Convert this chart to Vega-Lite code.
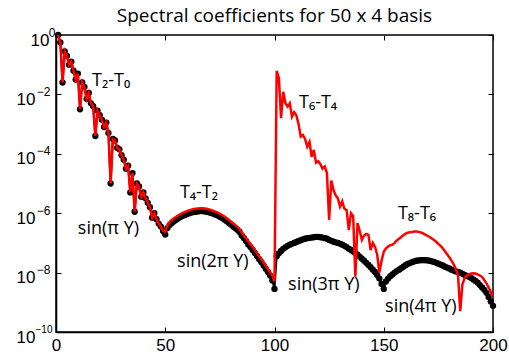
{
  "$schema": "https://vega.github.io/schema/vega-lite/v6.json",
  "width": 437,
  "height": 297,
  "autosize": {"type": "none"},
  "padding": {"left": 56, "top": 35, "right": 16, "bottom": 26},
  "background": "white",
  "title": {"text": "Spectral coefficients for 50 x 4 basis", "font": "Open Sans", "fontSize": 19, "fontWeight": "normal", "color": "black", "anchor": "middle", "baseline": "alphabetic", "offset": -15},
  "config": {
    "view": {"stroke": "black", "strokeWidth": 1.5},
    "axis": {"grid": false, "domainColor": "black", "domainWidth": 1.5, "tickColor": "black", "tickWidth": 1, "tickSize": -5, "labelColor": "black", "labelFont": "Liberation Sans", "labelFontSize": 17, "title": null, "labelOverlap": false, "labelBound": false, "labelFlush": false}
  },
  "datasets": {
    "d": [
      {"x":1,"k":1,"r":1},{"x":2,"k":0.5623,"r":0.5623},{"x":3,"k":2.512e-2,"r":2.512e-2},{"x":4,"k":0.2818,"r":0.2818},{"x":5,"k":0.1995,"r":0.1995},
      {"x":6,"k":0.1,"r":0.1},{"x":7,"k":0.1259,"r":0.1259},{"x":8,"k":6.31e-2,"r":6.31e-2},{"x":9,"k":3.162e-2,"r":3.162e-2},{"x":10,"k":5.012e-2,"r":5.012e-2},
      {"x":11,"k":3.162e-3,"r":3.162e-3},{"x":12,"k":2.512e-2,"r":2.512e-2},{"x":13,"k":1.778e-2,"r":1.778e-2},{"x":14,"k":7.079e-3,"r":7.079e-3},{"x":15,"k":1.122e-2,"r":1.122e-2},
      {"x":16,"k":5.012e-3,"r":5.012e-3},{"x":17,"k":3.981e-3,"r":3.981e-3},{"x":18,"k":3.981e-4,"r":3.981e-4},{"x":19,"k":2.818e-3,"r":2.818e-3},{"x":20,"k":1.995e-3,"r":1.995e-3},
      {"x":21,"k":1.413e-3,"r":1.413e-3},{"x":22,"k":7.943e-4,"r":7.943e-4},{"x":23,"k":1.122e-3,"r":1.122e-3},{"x":24,"k":5.012e-4,"r":5.012e-4},{"x":25,"k":1e-5,"r":1e-5},
      {"x":26,"k":3.162e-4,"r":3.162e-4},{"x":27,"k":2.818e-4,"r":2.818e-4},{"x":28,"k":1.585e-4,"r":1.585e-4},{"x":29,"k":1.413e-4,"r":1.413e-4},{"x":30,"k":8.913e-5,"r":8.913e-5},
      {"x":31,"k":6.31e-5,"r":6.31e-5},{"x":32,"k":3.162e-5,"r":3.162e-5},{"x":33,"k":3.981e-5,"r":3.981e-5},{"x":34,"k":5.012e-6,"r":5.012e-6},{"x":35,"k":2.239e-5,"r":2.239e-5},
      {"x":36,"k":1.122e-6,"r":1.122e-6},{"x":37,"k":1e-5,"r":1e-5},{"x":38,"k":7.943e-6,"r":7.943e-6},{"x":39,"k":3.548e-6,"r":3.548e-6},{"x":40,"k":5.012e-6,"r":5.012e-6},
      {"x":41,"k":3.162e-6,"r":3.162e-6},{"x":42,"k":2.239e-6,"r":2.239e-6},{"x":43,"k":1.585e-6,"r":1.585e-6},{"x":44,"k":7.079e-7,"r":7.079e-7},{"x":45,"k":1e-6,"r":1e-6},
      {"x":46,"k":6.31e-7,"r":6.31e-7},{"x":47,"k":4.467e-7,"r":4.467e-7},{"x":48,"k":3.548e-7,"r":3.548e-7},{"x":49,"k":2.512e-7,"r":2.512e-7},{"x":50,"k":1.905e-7,"r":2.399e-7},
      {"x":51,"k":3.162e-7,"r":3.981e-7},{"x":52,"k":3.981e-7,"r":5.012e-7},{"x":53,"k":4.677e-7,"r":5.888e-7},{"x":54,"k":5.37e-7,"r":6.761e-7},{"x":55,"k":6.026e-7,"r":7.586e-7},
      {"x":56,"k":6.761e-7,"r":8.511e-7},{"x":57,"k":7.413e-7,"r":9.333e-7},{"x":58,"k":8.128e-7,"r":1.023e-6},{"x":59,"k":8.71e-7,"r":1.096e-6},{"x":60,"k":9.333e-7,"r":1.175e-6},
      {"x":61,"k":1e-6,"r":1.259e-6},{"x":62,"k":1.047e-6,"r":1.318e-6},{"x":63,"k":1.096e-6,"r":1.38e-6},{"x":64,"k":1.122e-6,"r":1.413e-6},{"x":65,"k":1.148e-6,"r":1.445e-6},
      {"x":66,"k":1.175e-6,"r":1.479e-6},{"x":67,"k":1.175e-6,"r":1.479e-6},{"x":68,"k":1.148e-6,"r":1.445e-6},{"x":69,"k":1.122e-6,"r":1.413e-6},{"x":70,"k":1.072e-6,"r":1.349e-6},
      {"x":71,"k":1.023e-6,"r":1.288e-6},{"x":72,"k":9.55e-7,"r":1.202e-6},{"x":73,"k":8.913e-7,"r":1.122e-6},{"x":74,"k":8.318e-7,"r":1.047e-6},{"x":75,"k":7.586e-7,"r":9.55e-7},
      {"x":76,"k":6.918e-7,"r":8.71e-7},{"x":77,"k":6.166e-7,"r":7.762e-7},{"x":78,"k":5.495e-7,"r":6.918e-7},{"x":79,"k":4.786e-7,"r":6.026e-7},{"x":80,"k":4.169e-7,"r":5.248e-7},
      {"x":81,"k":3.631e-7,"r":4.571e-7},{"x":82,"k":3.162e-7,"r":3.981e-7},{"x":83,"k":2.754e-7,"r":3.467e-7},{"x":84,"k":2.344e-7,"r":2.951e-7},{"x":85,"k":1.778e-7,"r":2.239e-7},
      {"x":86,"k":1.445e-7,"r":1.82e-7},{"x":87,"k":1.148e-7,"r":1.445e-7},{"x":88,"k":8.913e-8,"r":1.122e-7},{"x":89,"k":7.244e-8,"r":9.12e-8},{"x":90,"k":5.754e-8,"r":7.244e-8},
      {"x":91,"k":4.571e-8,"r":5.754e-8},{"x":92,"k":3.631e-8,"r":4.571e-8},{"x":93,"k":2.818e-8,"r":3.548e-8},{"x":94,"k":2.239e-8,"r":2.818e-8},{"x":95,"k":1.738e-8,"r":2.188e-8},
      {"x":96,"k":1.349e-8,"r":1.698e-8},{"x":97,"k":1.047e-8,"r":1.318e-8},{"x":98,"k":7.943e-9,"r":1.047e-8},{"x":99,"k":5.37e-9,"r":7.943e-9},{"x":100,"k":2.818e-9,"r":5.012e-9},
      {"x":101,"k":3.548e-8,"r":6.166e-2},{"x":102,"k":4.467e-8,"r":3.548e-2},{"x":103,"k":5.37e-8,"r":1.585e-3},{"x":104,"k":6.31e-8,"r":1.23e-2},{"x":105,"k":7.079e-8,"r":5.012e-3},
      {"x":106,"k":7.943e-8,"r":3.89e-3},{"x":107,"k":8.71e-8,"r":5.012e-3},{"x":108,"k":9.333e-8,"r":1.778e-3},{"x":109,"k":1e-7,"r":2.512e-3},{"x":110,"k":1.072e-7,"r":1.995e-3},
      {"x":111,"k":1.148e-7,"r":1e-3},{"x":112,"k":1.23e-7,"r":3.802e-4},{"x":113,"k":1.318e-7,"r":4.266e-4},{"x":114,"k":1.38e-7,"r":3.162e-4},{"x":115,"k":1.445e-7,"r":1.738e-4},
      {"x":116,"k":1.479e-7,"r":2.512e-4},{"x":117,"k":1.514e-7,"r":7.943e-5},{"x":118,"k":1.549e-7,"r":1.349e-4},{"x":119,"k":1.585e-7,"r":5.012e-5},{"x":120,"k":1.585e-7,"r":5.623e-5},
      {"x":121,"k":1.549e-7,"r":4.467e-5},{"x":122,"k":1.514e-7,"r":3.162e-5},{"x":123,"k":1.445e-7,"r":3.715e-5},{"x":124,"k":1.38e-7,"r":2.239e-5},{"x":125,"k":1.259e-7,"r":5.888e-7},
      {"x":126,"k":1.175e-7,"r":1.259e-5},{"x":127,"k":1.096e-7,"r":6.026e-6},{"x":128,"k":1.047e-7,"r":3.981e-6},{"x":129,"k":1e-7,"r":3.162e-6},{"x":130,"k":9.333e-8,"r":1.66e-6},
      {"x":131,"k":8.71e-8,"r":2.512e-6},{"x":132,"k":7.943e-8,"r":1.413e-6},{"x":133,"k":7.244e-8,"r":1.288e-6},{"x":134,"k":6.31e-8,"r":2.692e-7},{"x":135,"k":5.754e-8,"r":1e-6},
      {"x":136,"k":5.129e-8,"r":7.943e-7},{"x":137,"k":4.571e-8,"r":7.244e-9},{"x":138,"k":3.981e-8,"r":4.677e-7},{"x":139,"k":3.467e-8,"r":2.512e-7},{"x":140,"k":2.951e-8,"r":1.259e-7},
      {"x":141,"k":2.512e-8,"r":1.778e-7},{"x":142,"k":2.138e-8,"r":1.995e-7},{"x":143,"k":1.82e-8,"r":1.862e-7},{"x":144,"k":1.514e-8,"r":5.754e-8},{"x":145,"k":1.259e-8,"r":1e-7},
      {"x":146,"k":1.047e-8,"r":7.413e-8},{"x":147,"k":8.318e-9,"r":3.981e-8},{"x":148,"k":6.31e-9,"r":1e-8},{"x":149,"k":4.169e-9,"r":2.512e-8},{"x":150,"k":2.818e-9,"r":5.012e-8},
      {"x":151,"k":5.012e-9,"r":6.607e-8},{"x":152,"k":6.31e-9,"r":7.586e-8},{"x":153,"k":7.586e-9,"r":8.318e-8},{"x":154,"k":8.71e-9,"r":8.71e-8},{"x":155,"k":1e-8,"r":1e-7},
      {"x":156,"k":1.122e-8,"r":1.202e-7},{"x":157,"k":1.259e-8,"r":1.38e-7},{"x":158,"k":1.413e-8,"r":1.585e-7},{"x":159,"k":1.585e-8,"r":1.82e-7},{"x":160,"k":1.778e-8,"r":2.042e-7},
      {"x":161,"k":1.95e-8,"r":2.188e-7},{"x":162,"k":2.089e-8,"r":2.291e-7},{"x":163,"k":2.239e-8,"r":2.344e-7},{"x":164,"k":2.399e-8,"r":2.399e-7},{"x":165,"k":2.512e-8,"r":2.399e-7},
      {"x":166,"k":2.57e-8,"r":2.344e-7},{"x":167,"k":2.63e-8,"r":2.239e-7},{"x":168,"k":2.63e-8,"r":2.089e-7},{"x":169,"k":2.63e-8,"r":1.905e-7},{"x":170,"k":2.57e-8,"r":1.738e-7},
      {"x":171,"k":2.512e-8,"r":1.585e-7},{"x":172,"k":2.399e-8,"r":1.413e-7},{"x":173,"k":2.291e-8,"r":1.259e-7},{"x":174,"k":2.138e-8,"r":1.096e-7},{"x":175,"k":1.995e-8,"r":9.333e-8},
      {"x":176,"k":1.862e-8,"r":7.943e-8},{"x":177,"k":1.738e-8,"r":6.607e-8},{"x":178,"k":1.585e-8,"r":5.248e-8},{"x":179,"k":1.479e-8,"r":4.169e-8},{"x":180,"k":1.38e-8,"r":3.311e-8},
      {"x":181,"k":1.259e-8,"r":2.512e-8},{"x":182,"k":1.175e-8,"r":1.905e-8},{"x":183,"k":1.096e-8,"r":1.318e-8},{"x":184,"k":1.047e-8,"r":7.943e-9},{"x":185,"k":1e-8,"r":5.012e-10},
      {"x":186,"k":9.12e-9,"r":3.981e-9},{"x":187,"k":8.318e-9,"r":6.607e-9},{"x":188,"k":7.762e-9,"r":7.943e-9},{"x":189,"k":7.244e-9,"r":8.71e-9},{"x":190,"k":6.607e-9,"r":9.333e-9},
      {"x":191,"k":5.888e-9,"r":9.55e-9},{"x":192,"k":5.248e-9,"r":9.333e-9},{"x":193,"k":4.571e-9,"r":8.71e-9},{"x":194,"k":3.802e-9,"r":7.943e-9},{"x":195,"k":3.162e-9,"r":7.079e-9},
      {"x":196,"k":2.63e-9,"r":5.623e-9},{"x":197,"k":2.089e-9,"r":4.365e-9},{"x":198,"k":1.514e-9,"r":3.162e-9},{"x":199,"k":1.072e-9,"r":2.239e-9},{"x":200,"k":7.586e-10,"r":1.585e-9}
    ],
    "a": [
      {"x":16.5,"y":1.9e-2,"t":"T₂-T₀"},
      {"x":56.7,"y":3.2e-6,"t":"T₄-T₂"},
      {"x":111.2,"y":3.5e-3,"t":"T₆-T₄"},
      {"x":156.5,"y":6.3e-7,"t":"T₈-T₆"},
      {"x":10,"y":2e-7,"t":"sin(π Y)"},
      {"x":55.4,"y":1.55e-8,"t":"sin(2π Y)"},
      {"x":106.2,"y":2.6e-9,"t":"sin(3π Y)"},
      {"x":150.6,"y":4.7e-10,"t":"sin(4π Y)"}
    ]
  },
  "resolve": {"axis": {"x": "independent", "y": "independent"}},
  "layer": [
    {
      "data": {"name": "d"},
      "mark": {"type": "line", "color": "black", "strokeWidth": 2},
      "encoding": {
        "x": {"field": "x", "type": "quantitative", "scale": {"domain": [0, 200], "nice": false, "zero": false},
              "axis": {"orient": "bottom", "values": [0, 50, 100, 150, 200], "labelPadding": 10}},
        "y": {"field": "k", "type": "quantitative", "scale": {"type": "log", "domain": [1e-10, 1], "nice": false},
              "axis": {"orient": "left", "values": [1e-10, 1e-8, 1e-6, 1e-4, 1e-2, 1], "labelOffset": 5,
                       "labelPadding": {"condition": {"test": "datum.value >= 0.5", "value": 12}, "value": 26},
                       "labelExpr": "'10'"}}
      }
    },
    {
      "data": {"name": "d"},
      "mark": {"type": "point", "filled": true, "color": "black", "opacity": 1, "size": 40},
      "encoding": {
        "x": {"field": "x", "type": "quantitative", "axis": null},
        "y": {"field": "k", "type": "quantitative",
              "axis": {"orient": "left", "values": [1e-10, 1e-8, 1e-6, 1e-4, 1e-2, 1], "domain": false, "ticks": false, "labelOffset": -3,
                       "labelFontSize": {"condition": {"test": "datum.value < 1e-9", "value": 10}, "value": 12},
                       "labelPadding": {"condition": [{"test": "datum.value >= 0.5", "value": 1}, {"test": "datum.value < 1e-9", "value": 4}], "value": 6},
                       "labelExpr": "['−10','','−8','','−6','','−4','','−2','','0'][round(log(datum.value)/LN10)+10]"}}
      }
    },
    {
      "data": {"name": "d"},
      "mark": {"type": "line", "color": "#ff0000", "strokeWidth": 2.5},
      "encoding": {
        "x": {"field": "x", "type": "quantitative", "axis": {"orient": "top", "values": [0, 50, 100, 150, 200], "labels": false, "domain": false}},
        "y": {"field": "r", "type": "quantitative", "axis": {"orient": "right", "values": [1e-10, 1e-8, 1e-6, 1e-4, 1e-2, 1], "labels": false, "domain": false}}
      }
    },
    {
      "data": {"name": "a"},
      "mark": {"type": "text", "align": "left", "baseline": "alphabetic", "font": "Open Sans", "fontSize": 18, "color": "black"},
      "encoding": {
        "x": {"field": "x", "type": "quantitative", "axis": null},
        "y": {"field": "y", "type": "quantitative", "axis": null},
        "text": {"field": "t"}
      }
    }
  ]
}
